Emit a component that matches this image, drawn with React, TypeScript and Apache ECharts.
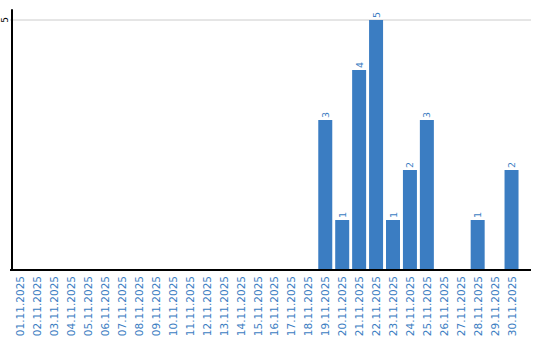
import React, { useEffect, useRef } from "react";
import * as echarts from "echarts";

const categories: string[] = [
  "01.11.2025", "02.11.2025", "03.11.2025", "04.11.2025", "05.11.2025",
  "06.11.2025", "07.11.2025", "08.11.2025", "09.11.2025", "10.11.2025",
  "11.11.2025", "12.11.2025", "13.11.2025", "14.11.2025", "15.11.2025",
  "16.11.2025", "17.11.2025", "18.11.2025", "19.11.2025", "20.11.2025",
  "21.11.2025", "22.11.2025", "23.11.2025", "24.11.2025", "25.11.2025",
  "26.11.2025", "27.11.2025", "28.11.2025", "29.11.2025", "30.11.2025",
];
const values: number[] = [
  0, 0, 0, 0, 0, 0, 0, 0, 0, 0,
  0, 0, 0, 0, 0, 0, 0, 0, 3, 1,
  4, 5, 1, 2, 3, 0, 0, 1, 0, 2,
];
const yTicks: number[] = [5];

const BLUE = "#3b7dc2";
const FONT = "'DejaVu Sans', Verdana, sans-serif";

export default function App() {
  const ref = useRef<HTMLDivElement>(null);
  useEffect(() => {
    if (!ref.current) return;
    const chart = echarts.init(ref.current, undefined, { renderer: "svg" });
    chart.setOption({
      animation: false,
      grid: { left: 10, right: 20, top: 10, bottom: 70, containLabel: false },
      xAxis: {
        type: "category",
        data: categories,
        axisLine: { show: false },
        axisTick: { show: false },
        axisLabel: {
          rotate: 90,
          interval: 0,
          color: BLUE,
          fontSize: 10.5,
          fontFamily: FONT,
          margin: 6,
        },
      },
      yAxis: {
        type: "value",
        min: 0,
        max: 5.2,
        interval: 5,
        axisLine: { show: true, lineStyle: { color: "#000", width: 2 } },
        axisTick: { show: false },
        splitLine: { show: false },
        axisLabel: {
          showMinLabel: false,
          showMaxLabel: false,
          rotate: 90,
          color: "#000",
          fontSize: 9,
          fontFamily: FONT,
          margin: 3,
          formatter: (v: number) => (yTicks.includes(v) ? String(v) : ""),
        },
      },
      series: [
        {
          type: "bar",
          data: values,
          barWidth: 14,
          itemStyle: { color: BLUE },
          label: {
            show: true,
            position: "top",
            rotate: 90,
            align: "left",
            verticalAlign: "middle",
            distance: 2,
            color: BLUE,
            fontSize: 9.5,
            fontFamily: FONT,
            formatter: (p: any) => (p.value ? String(p.value) : ""),
          },
        },
      ],
    });
    // gridline at the tick and x axis line, extended to the right edge as in the reference
    const xl = 10;
    const xr = 531;
    const y0 = chart.convertToPixel({ yAxisIndex: 0 }, 0) as number;
    const gridLines = yTicks.map((t) => {
      const y = chart.convertToPixel({ yAxisIndex: 0 }, t) as number;
      return {
        type: "line",
        shape: { x1: xl, y1: y, x2: xr, y2: y },
        style: { stroke: "#cccccc", lineWidth: 1 },
        z: -1,
      };
    });
    chart.setOption({
      graphic: [
        ...gridLines,
        {
          type: "line",
          shape: { x1: xl, y1: y0, x2: xr, y2: y0 },
          style: { stroke: "#000", lineWidth: 2 },
          z: 10,
        },
      ],
    });
    return () => chart.dispose();
  }, []);
  return (
    <div
      ref={ref}
      style={{ position: "absolute", left: 0, top: 0, width: 540, height: 340 }}
    />
  );
}
